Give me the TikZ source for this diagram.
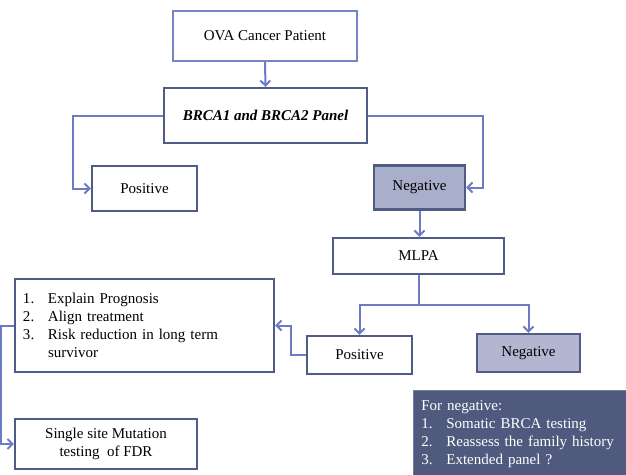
\documentclass[tikz,border=0pt]{standalone}
\usepackage{fontspec}
\setmainfont{Liberation Serif}
\usetikzlibrary{arrows.meta}
\definecolor{arrowc}{HTML}{6B7BC4}
\definecolor{boxline}{HTML}{505C85}
\definecolor{lightline}{HTML}{7484C4}
\definecolor{negfill}{HTML}{A9AECB}
\definecolor{negfilltwo}{HTML}{B2B6D0}
\definecolor{darkfill}{HTML}{4F5A7E}
\tikzset{
  box/.style={draw=boxline, line width=2.2pt, fill=white, inner sep=0pt, font=\fontsize{15}{18}\selectfont, align=center},
  negbox/.style={box, fill=negfill},
  arr/.style={draw=arrowc, line width=2pt, -{Straight Barb[length=5pt,width=10pt,line width=2pt]}},
}
\begin{document}
\begin{tikzpicture}[x=1pt,y=-1pt]
\useasboundingbox (0,0) rectangle (626,474);
\node[box, draw=lightline, minimum width=184pt, minimum height=50pt] (ova) at (265,36) {OVA Cancer Patient};
\node[box, minimum width=203pt, minimum height=55pt, font=\fontsize{15}{18}\selectfont\bfseries\itshape] (brca) at (265.5,115.5) {BRCA1 and BRCA2 Panel};
\node[box, minimum width=105pt, minimum height=45pt] (pos1) at (144.5,188.5) {Positive};
\node[negbox, minimum width=91pt, minimum height=44pt] (neg1) at (419.5,187.5) {Negative};
\node[box, minimum width=171pt, minimum height=36pt] (mlpa) at (418.5,256) {MLPA};
\node[box, minimum width=105pt, minimum height=38pt] (pos2) at (359.5,355) {Positive};
\node[negbox, fill=negfilltwo, minimum width=103pt, minimum height=38pt] (neg2) at (528.5,353) {Negative};
\node[box, minimum width=259pt, minimum height=93pt, text width=243pt, align=left] (list) at (144.5,325.5)
  {\makebox[25pt][l]{1.}Explain Prognosis\\
   \makebox[25pt][l]{2.}Align treatment\\
   \makebox[25pt][l]{3.}Risk reduction in long term\\
   \makebox[25pt][l]{}survivor};
\node[box, minimum width=182pt, minimum height=50pt] (single) at (106,444) {Single site Mutation\\testing~ of FDR};
\node[fill=darkfill, draw=boxline!80!white, line width=0.8pt, text=white, anchor=north west, minimum width=216pt, minimum height=88pt, text width=200pt, inner xsep=8pt, inner ysep=5pt, align=left, font=\fontsize{15}{18}\selectfont] (neg) at (413,390)
  {For negative:\\
   \makebox[25pt][l]{1.}Somatic BRCA testing\\
   \makebox[25pt][l]{2.}Reassess the family history\\
   \makebox[25pt][l]{3.}Extended panel ?};
\draw[arr] (ova.south) -- (brca.north);
\draw[arr] (brca.west) -- ++(-90,0) |- (pos1.west);
\draw[arr] (brca.east) -- ++(115,0) |- (neg1.east);
\draw[arr] (neg1.south) -- (neg1.south |- mlpa.north);
\draw[arr] (mlpa.south) -- ++(0,30) -| (pos2.north);
\draw[arr] (mlpa.south) -- ++(0,30) -| (neg2.north);
\draw[arr] (pos2.west) -- ++(-15,0) |- (list.east);
\draw[arr] (list.west) -- ++(-13,0) |- (single.west);
\end{tikzpicture}
\end{document}
